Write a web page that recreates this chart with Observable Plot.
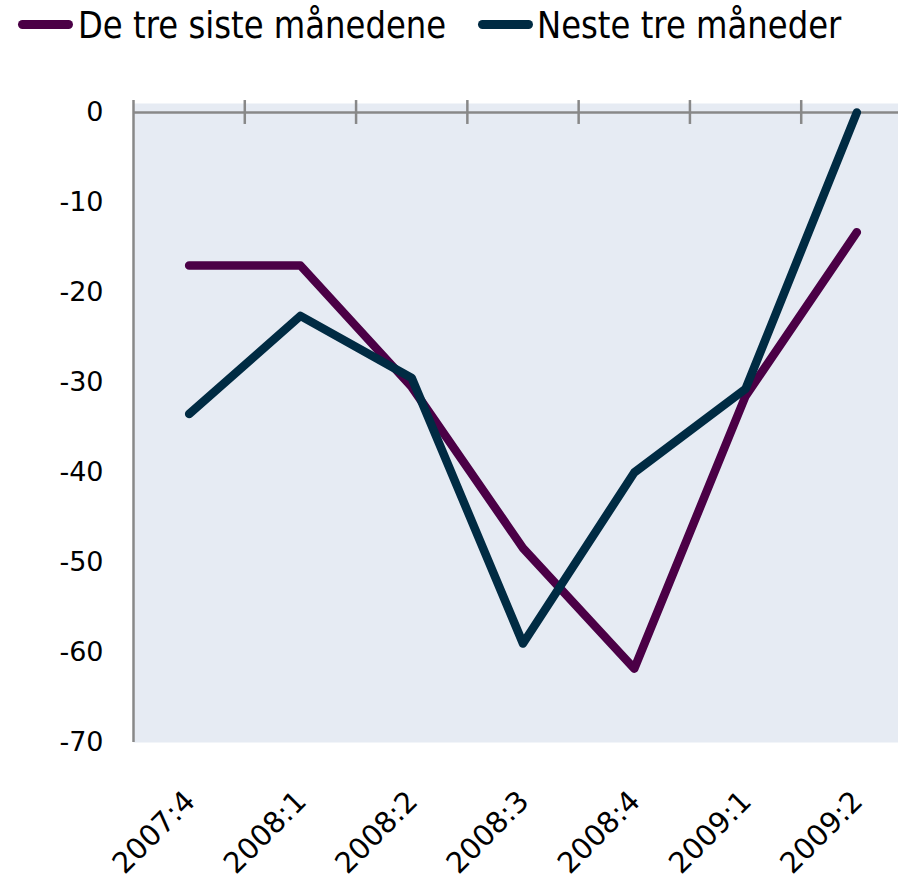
<!DOCTYPE html>
<html>
<head>
<meta charset="utf-8">
<script src="https://cdn.jsdelivr.net/npm/d3@7"></script>
<script src="https://cdn.jsdelivr.net/npm/@observablehq/plot@0.6"></script>
<style>
  html, body { margin: 0; padding: 0; background: #fff; }
  #legend { position: relative; width: 898px; height: 50px; font-family: "DejaVu Sans", sans-serif; }
  .sw { position: absolute; top: 20px; width: 55px; height: 9px; border-radius: 5px; }
  .lt { position: absolute; top: 6px; font-size: 38px; line-height: 1; white-space: nowrap; color: #000; transform: scaleX(0.85); transform-origin: left center; }
  svg { display: block; }
</style>
</head>
<body>
<div id="legend"></div>
<div id="chart"></div>
<script>
const categories = ["2007:4", "2008:1", "2008:2", "2008:3", "2008:4", "2009:1", "2009:2"];
const seriesNames = ["De tre siste månedene", "Neste tre måneder"];
const lastThreeMonths = [-17, -17, -30.5, -48.4, -61.8, -31.5, -13.3];
const nextThreeMonths = [-33.5, -22.6, -29.5, -59, -40, -30.7, 0];
const yTicks = [-70, -60, -50, -40, -30, -20, -10, 0];
const colors = ["#4B0046", "#002B43"];

// legend
const legend = document.getElementById("legend");
const swLeft = [18, 478], txtLeft = [78, 537];
seriesNames.forEach((name, i) => {
  const sw = document.createElement("span");
  sw.className = "sw"; sw.style.left = swLeft[i] + "px"; sw.style.background = colors[i];
  const t = document.createElement("span");
  t.className = "lt"; t.style.left = txtLeft[i] + "px"; t.textContent = name;
  legend.appendChild(sw); legend.appendChild(t);
});

const rows = [];
categories.forEach((c, i) => {
  rows.push({i, cat: c, series: seriesNames[0], value: lastThreeMonths[i]});
});
categories.forEach((c, i) => {
  rows.push({i, cat: c, series: seriesNames[1], value: nextThreeMonths[i]});
});
const idx = categories.map((c, i) => i);
const boundaries = idx.slice(1).map(i => i - 0.5);

const chart = Plot.plot({
  width: 898,
  height: 837,
  marginLeft: 133,
  marginRight: 0,
  marginTop: 53,
  marginBottom: 145,
  style: {fontFamily: "DejaVu Sans, sans-serif", background: "white", overflow: "visible"},
  x: {domain: [-0.5, 6.5], range: [133, 912], axis: null},
  y: {domain: [-70, 1], axis: null},
  color: {domain: seriesNames, range: colors},
  marks: [
    Plot.frame({fill: "#E6EBF3", stroke: null}),
    Plot.ruleY([0], {x1: -0.5, x2: 6.5, stroke: "#888", strokeWidth: 2.5}),
    Plot.ruleX([-0.5], {y1: 1.33, y2: -70, stroke: "#888", strokeWidth: 2.5}),
    Plot.ruleX(boundaries, {y1: 1.33, y2: -1.33, stroke: "#888", strokeWidth: 2.5}),
    Plot.axisY({ticks: yTicks, tickSize: 0, tickPadding: 30, fontSize: 27, label: null, tickFormat: d => String(d)}),
    Plot.text(idx, {x: d => d, y: -70, text: d => categories[d], rotate: -45, textAnchor: "end", dy: 54, dx: 1, fontSize: 29, fill: "#000"}),
    Plot.line(rows.filter(d => d.series === seriesNames[0]), {x: "i", y: "value", stroke: colors[0], strokeWidth: 8.5, strokeLinecap: "round", strokeLinejoin: "round"}),
    Plot.line(rows.filter(d => d.series === seriesNames[1]), {x: "i", y: "value", stroke: colors[1], strokeWidth: 8.5, strokeLinecap: "round", strokeLinejoin: "round"})
  ]
});
document.getElementById("chart").appendChild(chart);
</script>
</body>
</html>
